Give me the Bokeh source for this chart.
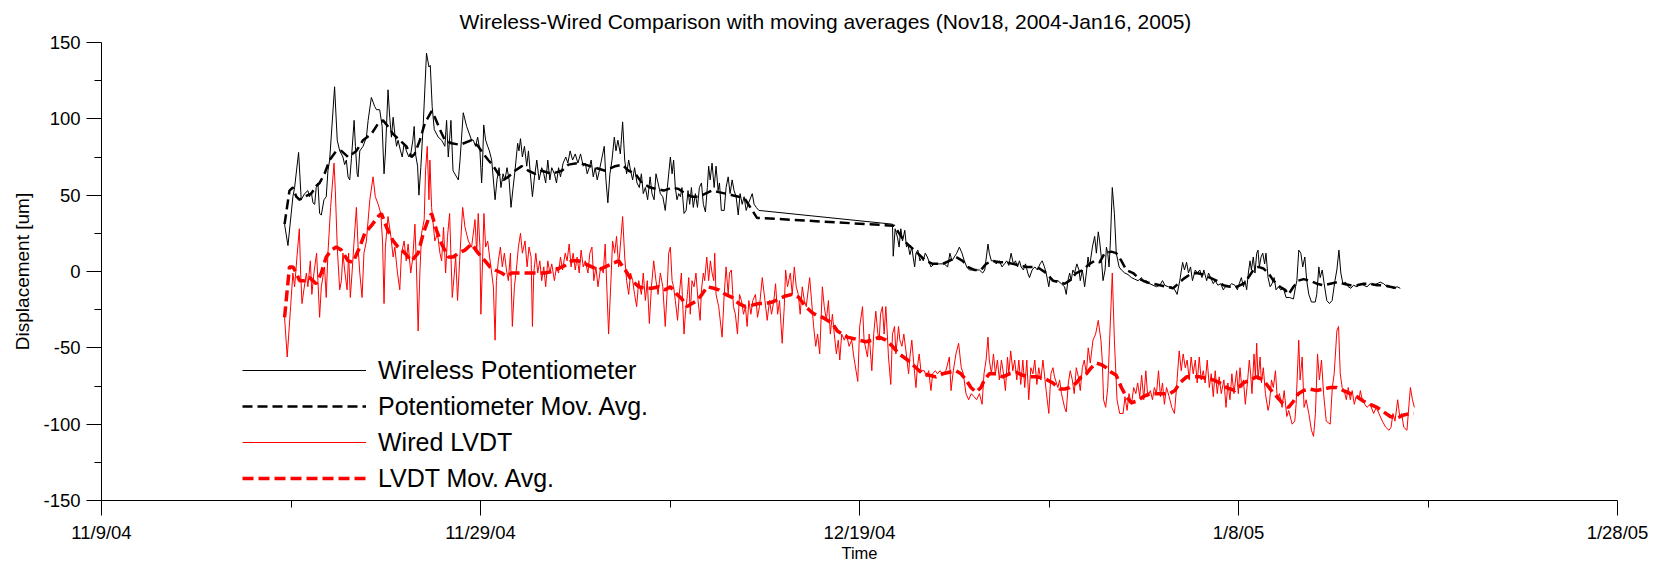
from bokeh.plotting import figure
from bokeh.models import FixedTicker, Range1d, Legend, LegendItem
from bokeh.embed import file_html
from bokeh.resources import INLINE

FONT = "Liberation Sans"
TITLE = "Wireless-Wired Comparison with moving averages (Nov18, 2004-Jan16, 2005)"

# x values are days since 11/9/2004 00:00, y values are displacement in um
x_ticks = [0, 20, 40, 60, 80]
x_minor = [10, 30, 50, 70]
x_tick_labels = ["11/9/04", "11/29/04", "12/19/04", "1/8/05", "1/28/05"]
y_ticks = [-150, -100, -50, 0, 50, 100, 150]
y_minor = [-125, -75, -25, 25, 75, 125]
y_tick_labels = ["-150", "-100", "-50", "0", "50", "100", "150"]

wireless = [
    (9.66, 31), (9.84, 17), (10.10, 49), (10.19, 55), (10.40, 78), (10.54, 47), (10.72, 51), (10.89, 53),
    (10.98, 49), (11.07, 52), (11.16, 45), (11.25, 44), (11.33, 55), (11.42, 58), (11.51, 38), (11.60, 37),
    (11.74, 47), (11.86, 49), (11.95, 66), (12.04, 73), (12.30, 121), (12.44, 86), (12.57, 79), (12.66, 77),
    (12.74, 75), (12.83, 70), (12.92, 73), (13.01, 62), (13.10, 60), (13.19, 74), (13.33, 99), (13.40, 82),
    (13.49, 64), (13.54, 62), (13.63, 79), (13.80, 82), (13.98, 88), (14.07, 99), (14.24, 114), (14.33, 111),
    (14.42, 108), (14.51, 106), (14.68, 106), (14.81, 95), (14.91, 64), (14.98, 77), (15.12, 119), (15.21, 101),
    (15.30, 88), (15.39, 101), (15.48, 90), (15.57, 82), (15.65, 86), (15.78, 79), (15.87, 75), (15.97, 84),
    (16.09, 79), (16.22, 75), (16.32, 77), (16.43, 86), (16.50, 95), (16.57, 77), (16.68, 69), (16.75, 50),
    (16.85, 68), (16.98, 97), (17.15, 143), (17.28, 134), (17.35, 135), (17.45, 108), (17.56, 93), (17.77, 88),
    (17.95, 86), (18.12, 82), (18.21, 99), (18.30, 75), (18.44, 99), (18.55, 66), (18.83, 60), (18.92, 73),
    (19.09, 104), (19.27, 95), (19.53, 86),
    (19.62, 86), (19.74, 82), (19.85, 88), (19.97, 79), (20.06, 58), (20.10, 68), (20.17, 96), (20.27, 86),
    (20.38, 82), (20.47, 79), (20.59, 73), (20.68, 60), (20.77, 47), (20.87, 60), (20.98, 68), (21.08, 55),
    (21.19, 64), (21.29, 60), (21.40, 68), (21.51, 60), (21.61, 42), (21.72, 55), (21.82, 66), (21.96, 84),
    (22.03, 79), (22.11, 87), (22.21, 75), (22.32, 82), (22.44, 69), (22.53, 79), (22.63, 64), (22.74, 49),
    (22.85, 62), (22.97, 73), (23.09, 60), (23.23, 68), (23.34, 64), (23.44, 58), (23.55, 73), (23.66, 60),
    (23.76, 68), (23.90, 64), (24.01, 58), (24.12, 68), (24.22, 62), (24.36, 71), (24.50, 75), (24.61, 71),
    (24.73, 79), (24.86, 73), (25.00, 77), (25.14, 71), (25.28, 77), (25.42, 69), (25.53, 71), (25.63, 64),
    (25.74, 68), (25.84, 73), (25.95, 62), (26.05, 68), (26.16, 60), (26.27, 66), (26.53, 82), (26.62, 60),
    (26.72, 45), (26.83, 64), (26.94, 73), (27.06, 88), (27.15, 79), (27.25, 86), (27.38, 77), (27.50, 98),
    (27.61, 73), (27.71, 64), (27.82, 73), (27.92, 66), (28.03, 60), (28.13, 68), (28.26, 58), (28.38, 55),
    (28.49, 64), (28.59, 51), (28.70, 55), (28.82, 47), (28.95, 62), (29.05, 51), (29.16, 47), (29.26, 64),
    (29.37, 58), (29.49, 51), (29.62, 49),
    (29.75, 40), (29.86, 55), (30.02, 75), (30.11, 64), (30.19, 73), (30.28, 55), (30.37, 47), (30.46, 51),
    (30.55, 49), (30.63, 55), (30.74, 38), (30.85, 40), (30.95, 53), (31.04, 44), (31.13, 55), (31.23, 42),
    (31.34, 51), (31.45, 42), (31.55, 55), (31.66, 58), (31.76, 44), (31.87, 39), (31.97, 55), (32.04, 69),
    (32.12, 60), (32.22, 71), (32.33, 55), (32.43, 69), (32.54, 53), (32.61, 58), (32.71, 40), (32.86, 40),
    (32.96, 55), (33.07, 62), (33.17, 51), (33.28, 60), (33.38, 53), (33.49, 49), (33.60, 37), (33.70, 51),
    (33.81, 44), (33.91, 49), (34.02, 40), (34.12, 44), (34.34, 51), (34.44, 44), (34.55, 42), (34.69, 40),
    (41.74, 31), (41.78, 10), (41.88, 28), (42.01, 22), (42.09, 16), (42.18, 28), (42.27, 20), (42.39, 27),
    (42.48, 16), (42.55, 18), (42.66, 11), (42.76, 16), (42.83, 9.5), (42.91, 3), (42.98, 12), (43.08, 14),
    (43.19, 7), (43.29, 9.5), (43.36, 7), (43.47, 12), (43.58, 9.5), (43.77, 3), (43.95, 5), (44.21, 5),
    (44.47, 5), (44.65, 3), (44.77, 12), (44.88, 7), (45.00, 9.5), (45.13, 12), (45.27, 16), (45.41, 12),
    (45.53, 7), (45.66, 3), (45.80, 1), (46.06, 1), (46.33, 1), (46.50, -1), (46.61, 1), (46.78, 18),
    (46.85, 12), (46.96, 7), (47.07, 7), (47.21, 5), (47.38, 7), (47.52, 3), (47.65, 5), (47.77, 7),
    (47.88, 4), (48.00, 12), (48.12, 5), (48.23, 7), (48.34, 3), (48.44, 7), (48.53, 3), (48.65, 1),
    (48.76, 5), (48.88, -1), (48.97, -4), (49.11, 1), (49.25, 3), (49.39, 1), (49.53, 5), (49.64, 7),
    (49.76, 3),
    (49.85, -1), (49.99, -10), (50.06, -4), (50.21, -6), (50.47, -6), (50.65, -8), (50.82, -10), (50.91, -15),
    (51.00, -6), (51.09, -1), (51.17, -6), (51.26, 1), (51.35, -1), (51.47, 5), (51.58, 1), (51.65, -6),
    (51.76, 1), (51.88, -10), (51.97, -1), (52.06, 9.5), (52.14, 3), (52.29, 16), (52.41, 23), (52.50, 12),
    (52.60, 26), (52.67, 20), (52.76, 9.5), (52.85, -6), (52.96, 1), (53.03, 16), (53.10, 12), (53.17, 3),
    (53.24, 20), (53.34, 55), (53.45, 38), (53.55, 12), (53.70, 3), (53.82, 1), (54.00, -1), (54.17, -2),
    (54.35, -4), (54.52, -5), (54.70, -6), (54.88, -4), (55.00, -7), (55.14, -6), (55.32, -8), (55.49, -9),
    (55.67, -10), (55.85, -9), (55.99, -6), (56.11, -9), (56.29, -10), (56.46, -10), (56.64, -12), (56.76, -15),
    (56.90, -6), (57.05, 6), (57.15, 1), (57.26, 6), (57.36, -1), (57.47, 3), (57.57, -6), (57.72, 1),
    (57.82, -1), (57.96, 1), (58.07, -4), (58.17, 1), (58.32, -6), (58.42, -1), (58.53, -4), (58.67, -8),
    (58.77, -6), (58.91, -9), (59.06, -8), (59.20, -12), (59.30, -10), (59.46, -10), (59.64, -8), (59.81, -9),
    (59.94, -12), (60.04, -8), (60.15, -4), (60.26, -10), (60.34, -6), (60.43, -12), (60.52, -1), (60.61, 7),
    (60.68, 1), (60.78, 9.5), (60.87, -1), (60.96, 12), (61.03, 14), (61.10, 3), (61.19, 9.5), (61.28, 12),
    (61.38, 5), (61.45, 12), (61.56, -4), (61.67, -10), (61.77, -8), (61.88, -4), (61.98, -12), (62.11, -10),
    (62.23, -12), (62.37, -11), (62.51, -17), (62.69, -17), (62.90, -18), (63.01, -10), (63.08, -6), (63.18, 14),
    (63.29, 12), (63.39, 3), (63.50, 9.5), (63.60, -6), (63.71, -15), (63.85, -20), (64.05, -20), (64.13, -15),
    (64.24, 3), (64.31, -4), (64.42, 1), (64.52, -8), (64.66, -19), (64.80, -21), (64.94, -19), (65.09, -6),
    (65.19, 1), (65.30, 14), (65.40, -1), (65.51, -8), (65.65, -7), (65.79, -10), (65.93, -11), (66.07, -9),
    (66.25, -10), (66.43, -8), (66.60, -9), (66.78, -10), (66.95, -8), (67.13, -9), (67.31, -8), (67.48, -7),
    (67.66, -8), (67.84, -10), (68.01, -10), (68.19, -11), (68.37, -10), (68.54, -11),
]

pot_avg = [
    (9.66, 31), (9.92, 53), (10.10, 55), (10.28, 49), (10.45, 47), (10.72, 49), (11.07, 51), (11.33, 56),
    (11.51, 58), (11.77, 64), (12.04, 73), (12.39, 79), (12.66, 79), (13.01, 75), (13.45, 79), (13.80, 86),
    (14.24, 90), (14.60, 97), (14.86, 99), (15.12, 95), (15.39, 90), (15.74, 86), (16.09, 82), (16.36, 75),
    (16.53, 77), (16.80, 86), (17.06, 97), (17.42, 105), (17.59, 101), (17.86, 93), (18.12, 86), (18.47, 84),
    (18.92, 83), (19.53, 86), (19.88, 82), (20.15, 77), (20.41, 73), (20.68, 69), (20.94, 64), (21.21, 60),
    (21.47, 62), (21.82, 66), (22.18, 69), (22.53, 66), (22.88, 64), (23.23, 66), (23.76, 64), (24.29, 66),
    (24.64, 70), (25.17, 71), (25.53, 70), (26.05, 68), (26.58, 66), (27.11, 69), (27.47, 70), (27.82, 66),
    (28.17, 64), (28.52, 58), (28.96, 55), (29.67, 53), (30.11, 55), (30.46, 54), (30.81, 51), (31.16, 49),
    (31.52, 49), (31.87, 51), (32.22, 53), (32.57, 52), (32.93, 51), (33.28, 50), (33.63, 49), (33.98, 47),
    (34.34, 40), (34.60, 35), (34.87, 35),
    (41.83, 30), (42.09, 25), (42.36, 20), (42.62, 17), (42.89, 14), (43.15, 11), (43.50, 7), (43.86, 5),
    (44.39, 5), (44.74, 7), (45.09, 9.5), (45.44, 7), (45.71, 3), (46.06, 1), (46.41, 1), (46.68, 5),
    (47.03, 7), (47.38, 6), (47.74, 6), (48.09, 5), (48.44, 4), (48.79, 3), (49.15, 3), (49.50, 2),
    (49.85, -1), (50.21, -6), (50.56, -7), (50.82, -8), (51.09, -6), (51.44, -1), (51.79, 1), (52.14, 5),
    (52.41, 7), (52.67, 6), (52.94, 12), (53.29, 13), (53.55, 12), (53.82, 7), (54.08, 1), (54.44, -1),
    (54.79, -5), (55.14, -7), (55.49, -8), (55.85, -9), (56.20, -10), (56.55, -11), (56.82, -8), (57.08, -5),
    (57.43, -2), (57.79, -1), (58.14, -2), (58.49, -4), (58.84, -6), (59.20, -9), (59.55, -10), (59.90, -10),
    (60.26, -8), (60.52, -4), (60.78, 1), (61.05, 3), (61.31, 2), (61.58, -1), (61.84, -6), (62.19, -10),
    (62.46, -12), (62.64, -15), (62.90, -10), (63.16, -6), (63.43, -5), (63.78, -6), (64.13, -8), (64.49, -9),
    (64.84, -8), (65.19, -7), (65.54, -8), (65.90, -9), (66.25, -9), (66.60, -8), (66.95, -8), (67.31, -9),
    (67.66, -9), (68.01, -10), (68.37, -11), (68.54, -11),
]

lvdt = [
    (9.66, -30), (9.80, -56), (9.98, -23), (10.10, -1), (10.19, -10), (10.33, 12), (10.44, 28), (10.51, -1),
    (10.58, -21), (10.68, -12), (10.81, -1), (10.89, -10), (11.02, 7), (11.10, -15), (11.21, -1), (11.35, 12),
    (11.42, -6), (11.51, -30), (11.60, -10), (11.77, 3), (11.86, -17), (11.95, 12), (12.09, 42), (12.27, 71),
    (12.34, 53), (12.44, 16), (12.57, -12), (12.66, -6), (12.74, 12), (12.83, 1), (12.96, -12), (13.04, 12),
    (13.13, -17), (13.22, -1), (13.33, 20), (13.45, 42), (13.54, 16), (13.63, -1), (13.75, -17), (13.85, 12),
    (13.98, 20), (14.16, 47), (14.33, 62), (14.45, 49), (14.60, 44), (14.74, 38), (14.83, 20), (14.91, -21),
    (14.98, 16), (15.12, 36), (15.27, 23), (15.39, 9.5), (15.48, 16), (15.62, -1), (15.74, -12), (15.83, 12),
    (15.97, 20), (16.08, 7), (16.18, 18), (16.32, -1), (16.43, 9.5), (16.54, 31), (16.62, 3), (16.71, -39),
    (16.80, -1), (16.89, 25), (17.03, 34), (17.10, 66), (17.19, 82), (17.28, 47), (17.33, 73), (17.42, 42),
    (17.59, 20), (17.73, 25), (17.86, 12), (17.95, 7), (18.05, 29), (18.16, -1), (18.26, 23), (18.37, 38),
    (18.51, -17), (18.62, -1), (18.69, 9.5), (18.79, -19), (18.92, 12), (19.06, 42), (19.18, 29), (19.36, 20),
    (19.53, 16),
    (19.71, 34), (19.80, 12), (19.88, 38), (19.97, 16), (20.02, -28), (20.10, 3), (20.18, 38), (20.27, 16),
    (20.38, 20), (20.48, 9.5), (20.59, -1), (20.68, -10), (20.77, -45), (20.84, -6), (20.94, 7), (21.05, 16),
    (21.15, 3), (21.26, 12), (21.37, 1), (21.47, -6), (21.58, 12), (21.68, -36), (21.79, -10), (21.89, 1),
    (22.00, 16), (22.11, 25), (22.21, 12), (22.35, 20), (22.46, 3), (22.56, 16), (22.67, 9.5), (22.74, -36),
    (22.81, -1), (22.92, 12), (23.02, -1), (23.13, 7), (23.23, -6), (23.34, 3), (23.44, -10), (23.55, 7),
    (23.66, -1), (23.76, 5), (23.90, -6), (24.01, 3), (24.12, -1), (24.22, 9.5), (24.33, 1), (24.47, 12),
    (24.57, 7), (24.68, 18), (24.78, 3), (24.89, 12), (25.00, 1), (25.10, 9.5), (25.21, -1), (25.31, 14),
    (25.42, 3), (25.53, 7), (25.67, -1), (25.77, 12), (25.88, 16), (25.98, -6), (26.09, 3), (26.20, -10),
    (26.34, 3), (26.48, -1), (26.58, 18), (26.76, -41), (26.87, -10), (26.97, 20), (27.08, 12), (27.18, 23),
    (27.29, 3), (27.50, 36), (27.61, 9.5), (27.71, -6), (27.82, -15), (27.92, -1), (28.03, -6), (28.13, -15),
    (28.24, -23), (28.35, -6), (28.49, -15), (28.59, -1), (28.70, -19), (28.80, -6), (28.91, -34), (29.02, -10),
    (29.14, 7), (29.26, -6), (29.37, -15), (29.49, -1), (29.62, -10),
    (29.75, -36), (29.84, -15), (29.93, 12), (30.02, 16), (30.11, -6), (30.19, -10), (30.28, -19), (30.40, -32),
    (30.49, -15), (30.60, -1), (30.74, -41), (30.81, -28), (30.92, -15), (30.99, -4), (31.07, -28), (31.16, -6),
    (31.27, -10), (31.37, -1), (31.48, -19), (31.59, -32), (31.66, -12), (31.76, -1), (31.83, -6), (31.94, 9.5),
    (32.04, -6), (32.13, 7), (32.22, -1), (32.31, -6), (32.36, 12), (32.43, -15), (32.57, -23), (32.75, -43),
    (32.86, -15), (32.96, 3), (33.07, -15), (33.14, -1), (33.24, 1), (33.35, -23), (33.45, -28), (33.56, -41),
    (33.67, -15), (33.77, -19), (33.88, -28), (33.98, -23), (34.07, -36), (34.16, -19), (34.27, -28), (34.37, -19),
    (34.51, -15), (34.62, -30), (34.72, -23), (34.87, -4), (35.01, -19), (35.13, -32), (35.25, -19), (35.36, -28),
    (35.48, -19), (35.57, -8), (35.68, -28), (35.78, -19), (35.92, -47), (36.03, -23), (36.10, 1), (36.20, -10),
    (36.35, -1), (36.45, -15), (36.56, 3), (36.66, -10), (36.77, -15), (36.87, -28), (36.98, -10), (37.09, -19),
    (37.19, -23), (37.37, -4), (37.47, -19), (37.58, -36), (37.69, -49), (37.79, -41), (37.90, -54), (38.04, -10),
    (38.14, -23), (38.25, -32), (38.36, -19), (38.46, -41), (38.57, -28), (38.67, -41), (38.78, -54), (38.88, -45),
    (38.96, -58), (39.06, -41), (39.20, -45), (39.31, -41), (39.45, -49), (39.59, -45), (39.70, -56),
    (39.91, -72), (40.01, -36), (40.16, -23), (40.24, -45), (40.42, -56), (40.51, -41), (40.65, -65), (40.75, -41),
    (40.86, -26), (40.97, -41), (41.04, -45), (41.11, -28), (41.21, -23), (41.30, -41), (41.39, -23), (41.53, -56),
    (41.65, -74), (41.74, -41), (41.85, -36), (41.92, -54), (42.06, -36), (42.13, -45), (42.24, -49), (42.34, -41),
    (42.45, -52), (42.59, -67), (42.66, -56), (42.76, -45), (42.91, -67), (42.98, -76), (43.05, -63), (43.15, -54),
    (43.24, -65), (43.42, -65), (43.54, -69), (43.65, -65), (43.77, -78), (43.86, -67), (44.00, -65), (44.12, -67),
    (44.25, -65), (44.39, -67), (44.56, -65), (44.74, -56), (44.83, -78), (44.95, -65), (45.09, -54), (45.23, -47),
    (45.37, -63), (45.48, -67), (45.62, -80), (45.76, -84), (45.90, -80), (46.04, -82), (46.18, -84), (46.33, -80),
    (46.47, -87), (46.57, -67), (46.68, -58), (46.78, -43), (46.85, -58), (46.96, -67), (47.07, -54), (47.17, -67),
    (47.28, -58), (47.38, -71), (47.49, -58), (47.60, -67), (47.70, -78), (47.81, -56), (47.88, -67), (47.98, -52),
    (48.09, -65), (48.19, -58), (48.30, -71), (48.41, -58), (48.51, -74), (48.62, -58), (48.72, -76), (48.83, -58),
    (48.93, -84), (49.04, -63), (49.15, -67), (49.25, -58), (49.36, -74), (49.46, -63), (49.57, -71), (49.68, -58),
    (49.85, -78), (49.99, -93), (50.10, -67), (50.21, -63), (50.29, -69), (50.47, -76), (50.56, -71), (50.66, -80),
    (50.82, -89), (50.91, -92), (51.02, -73), (51.12, -65), (51.23, -71), (51.33, -80), (51.44, -63), (51.55, -69),
    (51.65, -78), (51.76, -63), (51.86, -58), (51.97, -67), (52.07, -50), (52.18, -60), (52.32, -45), (52.46, -41),
    (52.60, -32), (52.74, -45), (52.81, -58), (52.88, -84), (52.99, -89), (53.10, -76), (53.20, -45), (53.34, -1),
    (53.45, -45), (53.59, -84), (53.73, -93), (53.91, -93), (54.01, -82), (54.12, -91), (54.22, -80), (54.35, -87),
    (54.47, -76), (54.58, -80), (54.68, -73), (54.79, -82), (54.89, -68), (55.00, -84), (55.11, -65), (55.21, -82),
    (55.35, -78), (55.46, -84), (55.56, -76), (55.67, -80), (55.78, -65), (55.88, -82), (55.99, -73), (56.09, -87),
    (56.20, -76), (56.34, -82), (56.48, -89), (56.62, -93), (56.73, -76), (56.87, -52), (56.98, -65), (57.08, -54),
    (57.19, -63), (57.29, -58), (57.40, -71), (57.50, -56), (57.61, -67), (57.72, -58), (57.82, -73), (57.93, -56),
    (58.03, -71), (58.14, -65), (58.24, -73), (58.35, -58), (58.46, -76), (58.56, -67), (58.67, -82), (58.77, -65),
    (58.88, -80), (58.98, -69), (59.09, -80), (59.23, -71), (59.34, -89), (59.44, -73), (59.55, -84), (59.65, -67),
    (59.76, -80),
    (59.90, -65), (59.99, -80), (60.08, -63), (60.17, -76), (60.26, -71), (60.36, -87), (60.47, -73), (60.57, -58),
    (60.64, -67), (60.71, -80), (60.82, -54), (60.89, -69), (60.96, -47), (61.03, -71), (61.14, -56), (61.21, -73),
    (61.31, -63), (61.42, -80), (61.56, -91), (61.63, -87), (61.74, -71), (61.84, -76), (61.95, -65), (62.05, -84),
    (62.16, -80), (62.30, -89), (62.41, -78), (62.55, -95), (62.65, -91), (62.83, -100), (62.97, -98), (63.04, -87),
    (63.18, -45), (63.25, -71), (63.36, -56), (63.46, -89), (63.57, -84), (63.71, -93), (63.85, -104), (63.96, -108),
    (64.06, -93), (64.17, -54), (64.27, -71), (64.38, -58), (64.49, -80), (64.63, -98), (64.84, -100), (64.95, -76),
    (65.05, -67), (65.19, -39), (65.28, -36), (65.37, -67), (65.47, -76), (65.58, -78), (65.69, -84), (65.79, -76),
    (65.90, -84), (66.00, -78), (66.11, -87), (66.21, -82), (66.36, -84), (66.43, -78), (66.53, -84), (66.67, -87),
    (66.78, -89), (66.95, -87), (67.13, -93), (67.27, -89), (67.41, -93), (67.59, -98), (67.77, -102), (67.94, -104),
    (68.05, -102), (68.15, -93), (68.26, -98), (68.40, -84), (68.51, -95), (68.61, -93), (68.72, -102), (68.89, -104),
    (68.96, -93), (69.07, -76), (69.18, -84), (69.28, -89),
]

lvdt_avg = [
    (9.66, -30), (9.92, 3), (10.10, 3), (10.28, -1), (10.45, -6), (10.72, -6), (10.98, -4), (11.33, -8),
    (11.60, -1), (11.86, 9.5), (12.13, 14), (12.39, 16), (12.66, 14), (13.01, 7), (13.27, 6), (13.63, 16),
    (13.89, 25), (14.24, 30), (14.60, 36), (14.77, 38), (15.04, 29), (15.39, 20), (15.65, 16), (16.01, 12),
    (16.36, 7), (16.71, 12), (16.98, 25), (17.24, 34), (17.42, 38), (17.68, 27), (17.95, 18), (18.30, 9.5),
    (18.56, 9.5), (18.83, 12), (19.18, 14), (19.53, 18), (19.88, 12), (20.24, 7), (20.50, 3), (20.77, 1),
    (21.12, -1), (21.38, -3), (21.65, -1), (22.00, -1), (22.35, -1), (22.70, -1), (23.06, -1), (23.41, -1),
    (23.76, 0), (24.12, 2), (24.47, 4), (24.82, 7), (25.17, 7), (25.53, 5), (25.88, 3), (26.23, 1),
    (26.58, 3), (26.94, 5), (27.29, 7), (27.64, 1), (27.99, -6), (28.35, -10), (28.70, -11), (29.05, -11),
    (29.40, -10), (29.75, -12), (30.02, -10), (30.37, -15), (30.63, -18), (30.90, -23), (31.16, -21), (31.43, -19),
    (31.69, -15), (31.96, -10), (32.31, -11), (32.57, -12), (32.93, -15), (33.28, -17), (33.63, -21), (33.98, -23),
    (34.34, -22), (34.69, -21), (35.04, -21), (35.39, -20), (35.75, -18), (36.10, -16), (36.45, -15), (36.80, -17),
    (37.16, -23), (37.51, -27), (37.77, -29), (38.04, -30), (38.30, -32), (38.57, -34), (38.83, -39), (39.10, -41),
    (39.36, -43), (39.71, -44), (39.98, -45), (40.33, -46), (40.68, -45), (41.04, -43), (41.39, -45), (41.74, -49),
    (42.09, -54), (42.54, -58), (42.98, -63), (43.33, -67), (43.68, -68), (44.03, -69), (44.39, -67), (44.74, -66),
    (45.09, -65), (45.36, -67), (45.62, -71), (45.88, -76), (46.15, -79), (46.41, -76), (46.59, -71), (46.85, -67),
    (47.21, -67), (47.56, -69), (47.91, -67), (48.27, -66), (48.62, -68), (48.97, -69), (49.32, -69), (49.76, -70),
    (50.21, -73), (50.56, -77), (50.82, -77), (51.09, -76), (51.44, -73), (51.70, -69), (51.97, -67), (52.23, -63),
    (52.50, -60), (52.76, -61), (53.03, -63), (53.29, -66), (53.55, -68), (53.82, -76), (54.08, -82), (54.35, -86),
    (54.61, -85), (54.97, -82), (55.32, -80), (55.67, -80), (56.02, -80), (56.38, -80), (56.64, -78), (56.90, -73),
    (57.26, -69), (57.61, -69), (57.96, -69), (58.32, -70), (58.67, -71), (59.02, -73), (59.37, -76), (59.81, -78),
    (60.26, -73), (60.61, -71), (60.96, -69), (61.31, -71), (61.67, -77), (62.02, -82), (62.37, -87), (62.64, -89),
    (62.90, -85), (63.16, -80), (63.43, -78), (63.78, -77), (64.13, -78), (64.49, -77), (64.84, -76), (65.19, -76),
    (65.54, -78), (65.90, -80), (66.25, -82), (66.60, -85), (66.95, -87), (67.31, -89), (67.66, -92), (68.01, -95),
    (68.37, -96), (68.72, -94), (69.07, -93), (69.25, -93),
]

series = [
    ("Wireless Potentiometer", wireless, "#000000", 1.0, "solid"),
    ("Potentiometer Mov. Avg.", pot_avg, "#000000", 2.5, "10 5"),
    ("Wired LVDT", lvdt, "#ff0000", 1.0, "solid"),
    ("LVDT Mov. Avg.", lvdt_avg, "#ff0000", 3.5, "11 5"),
]

p = figure(width=1665, height=565, output_backend="svg", toolbar_location=None,
           x_range=Range1d(0, 80), y_range=Range1d(-150, 150),
           min_border_left=101, min_border_right=48, min_border_top=42, min_border_bottom=65,
           background_fill_color="white", border_fill_color="white")
p.outline_line_color = None
p.xgrid.visible = False
p.ygrid.visible = False

p.title.text = TITLE
p.title.text_font = FONT
p.title.text_font_size = "21px"
p.title.text_font_style = "normal"
p.title.text_color = "black"
p.title.align = "left"
p.title.offset = 358
p.title.vertical_align = "top"
p.title.standoff = 15

p.xaxis.ticker = FixedTicker(ticks=x_ticks, minor_ticks=x_minor)
p.xaxis.major_label_overrides = {t: lab for t, lab in zip(x_ticks, x_tick_labels)}
p.yaxis.ticker = FixedTicker(ticks=y_ticks, minor_ticks=y_minor)
p.yaxis.major_label_overrides = {t: lab for t, lab in zip(y_ticks, y_tick_labels)}
p.xaxis.axis_label = "Time"
p.yaxis.axis_label = "Displacement [um]"

for ax in (p.xaxis[0], p.yaxis[0]):
    ax.axis_line_color = "black"
    ax.axis_line_width = 1
    ax.major_tick_line_color = "black"
    ax.minor_tick_line_color = "black"
    ax.major_tick_out = 15
    ax.major_tick_in = 0
    ax.minor_tick_out = 7
    ax.minor_tick_in = 0
    ax.major_label_text_font = FONT
    ax.major_label_text_font_size = "18.5px"
    ax.major_label_text_color = "black"
    ax.major_label_standoff = 6
    ax.axis_label_text_font = FONT
    ax.axis_label_text_font_style = "normal"
    ax.axis_label_text_color = "black"

p.xaxis.axis_label_text_font_size = "16.5px"
p.xaxis.axis_label_standoff = -2
p.yaxis.axis_label_text_font_size = "19px"
p.yaxis.axis_label_standoff = 7

items = []
for label, pts, color, width, dash in series:
    xs = [t for t, _ in pts]
    ys = [v for _, v in pts]
    r = p.line(xs, ys, line_color=color, line_width=width, line_dash=dash)
    items.append(LegendItem(label=label, renderers=[r]))

legend = Legend(items=items, location=(141, 7), orientation="vertical",
                label_text_font=FONT, label_text_font_size="25px", label_text_color="black",
                glyph_width=124, glyph_height=30, label_height=30, spacing=6,
                label_standoff=12, padding=0, margin=0,
                border_line_color=None, background_fill_alpha=0)
p.add_layout(legend)

open("out.html", "w").write(file_html(p, INLINE))
